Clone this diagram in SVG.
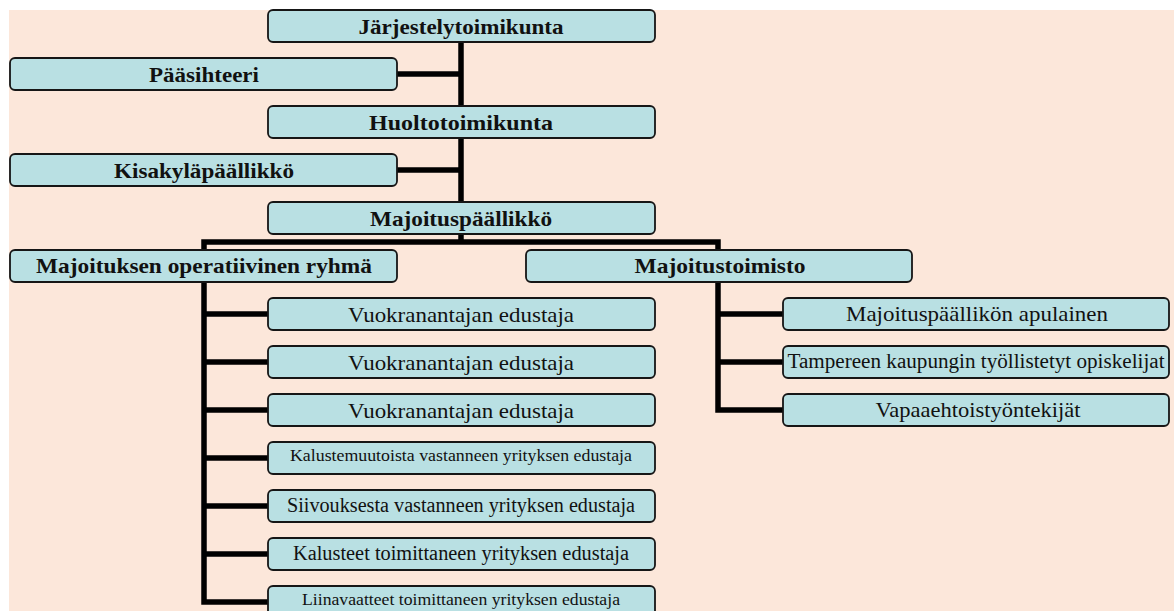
<svg xmlns="http://www.w3.org/2000/svg" width="1174" height="611" viewBox="0 0 1174 611">
<style>
.bg{fill:#FCE7DA}
.box{fill:#B9E0E3;stroke:#161616;stroke-width:1.8}
.con{fill:none;stroke:#000;stroke-width:5.5;stroke-linejoin:miter;stroke-linecap:butt}
text{font-family:"Liberation Serif","Times New Roman",serif;fill:#111;text-anchor:middle}
.b{font-weight:bold;font-size:22px}
.r{font-size:22px}
.s{font-size:16.5px}
.m{font-size:20px}
</style>
<rect class="bg" x="9" y="10" width="1165" height="601"/>
<g id="connectors">
<path class="con" d="M461,42 V242"/>
<path class="con" d="M397,74 H461"/>
<path class="con" d="M397,170 H461"/>
<path class="con" d="M204,250 V242 H718 V250"/>
<path class="con" d="M204,282 V602 H268"/>
<path class="con" d="M204,314 H268 M204,362 H268 M204,410 H268 M204,458 H268 M204,506 H268 M204,554 H268"/>
<path class="con" d="M718,282 V410 H783 M718,314 H783 M718,362 H783"/>
</g>
<g id="n-jarjestely"><rect class="box" x="268" y="10" width="387" height="32" rx="5"/><text class="b" x="461" y="33.5" textLength="205" lengthAdjust="spacingAndGlyphs">Järjestelytoimikunta</text></g>
<g id="n-paasihteeri"><rect class="box" x="10" y="58" width="387" height="32" rx="5"/><text class="b" x="204" y="81.5" textLength="110" lengthAdjust="spacingAndGlyphs">Pääsihteeri</text></g>
<g id="n-huolto"><rect class="box" x="268" y="106" width="387" height="32" rx="5"/><text class="b" x="461" y="129.5" textLength="184" lengthAdjust="spacingAndGlyphs">Huoltotoimikunta</text></g>
<g id="n-kisakyla"><rect class="box" x="10" y="154" width="387" height="32" rx="5"/><text class="b" x="204" y="177.5" textLength="180" lengthAdjust="spacingAndGlyphs">Kisakyläpäällikkö</text></g>
<g id="n-majoituspaallikko"><rect class="box" x="268" y="202" width="387" height="32" rx="5"/><text class="b" x="461" y="225.5" textLength="182" lengthAdjust="spacingAndGlyphs">Majoituspäällikkö</text></g>
<g id="n-operatiivinen"><rect class="box" x="10" y="250" width="387" height="32" rx="5"/><text class="b" x="204" y="273" textLength="336" lengthAdjust="spacingAndGlyphs">Majoituksen operatiivinen ryhmä</text></g>
<g id="n-toimisto"><rect class="box" x="526" y="250" width="386" height="32" rx="5"/><text class="b" x="720" y="273" textLength="171" lengthAdjust="spacingAndGlyphs">Majoitustoimisto</text></g>
<g id="n-vuokra1"><rect class="box" x="268" y="298" width="387" height="32" rx="5"/><text class="r" x="461" y="321.5" textLength="226" lengthAdjust="spacingAndGlyphs">Vuokranantajan edustaja</text></g>
<g id="n-vuokra2"><rect class="box" x="268" y="346" width="387" height="32" rx="5"/><text class="r" x="461" y="369.5" textLength="226" lengthAdjust="spacingAndGlyphs">Vuokranantajan edustaja</text></g>
<g id="n-vuokra3"><rect class="box" x="268" y="394" width="387" height="32" rx="5"/><text class="r" x="461" y="417.5" textLength="226" lengthAdjust="spacingAndGlyphs">Vuokranantajan edustaja</text></g>
<g id="n-kalustemuutos"><rect class="box" x="268" y="442" width="387" height="32" rx="5"/><text class="s" x="461" y="461" textLength="342" lengthAdjust="spacingAndGlyphs">Kalustemuutoista vastanneen yrityksen edustaja</text></g>
<g id="n-siivous"><rect class="box" x="268" y="490" width="387" height="32" rx="5"/><text class="m" x="461" y="511.5" textLength="348" lengthAdjust="spacingAndGlyphs">Siivouksesta vastanneen yrityksen edustaja</text></g>
<g id="n-kalusteet"><rect class="box" x="268" y="538" width="387" height="32" rx="5"/><text class="m" x="461" y="559.5" textLength="336" lengthAdjust="spacingAndGlyphs">Kalusteet toimittaneen yrityksen edustaja</text></g>
<g id="n-liinavaatteet"><rect class="box" x="268" y="586" width="387" height="32" rx="5"/><text class="s" x="461" y="605" textLength="318" lengthAdjust="spacingAndGlyphs">Liinavaatteet toimittaneen yrityksen edustaja</text></g>
<g id="n-apulainen"><rect class="box" x="783" y="298" width="386" height="32" rx="5"/><text class="r" x="977" y="320.5" textLength="262" lengthAdjust="spacingAndGlyphs">Majoituspäällikön apulainen</text></g>
<g id="n-tampere"><rect class="box" x="783" y="346" width="386" height="32" rx="5"/><text class="m" x="976" y="367.5" textLength="377" lengthAdjust="spacingAndGlyphs">Tampereen kaupungin työllistetyt opiskelijat</text></g>
<g id="n-vapaaehtoiset"><rect class="box" x="783" y="394" width="386" height="32" rx="5"/><text class="r" x="978" y="416.5" textLength="205" lengthAdjust="spacingAndGlyphs">Vapaaehtoistyöntekijät</text></g>
</svg>
